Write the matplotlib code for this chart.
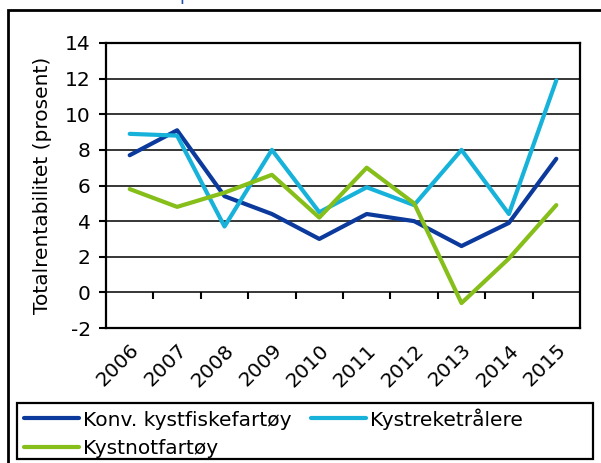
import matplotlib.pyplot as plt
import matplotlib.patches as patches
import numpy as np

years = ['2006', '2007', '2008', '2009', '2010', '2011', '2012', '2013', '2014', '2015']
konv = [7.7, 9.1, 5.4, 4.4, 3.0, 4.4, 4.0, 2.6, 3.9, 7.5]
reke = [8.9, 8.8, 3.7, 8.0, 4.5, 5.9, 4.9, 8.0, 4.4, 11.9]
not_ = [5.8, 4.8, 5.6, 6.6, 4.2, 7.0, 5.0, -0.6, 1.9, 4.9]
names = ['Konv. kystfiskefartøy', 'Kystreketrålere', 'Kystnotfartøy']
colors = ['#0B3A9C', '#16B2DA', '#86BE1A']

plt.rcParams['font.family'] = 'DejaVu Sans'
plt.rcParams['axes.unicode_minus'] = False
fs = 14.5
fig = plt.figure(figsize=(6.01, 4.63), dpi=100)
ax = fig.add_axes([106/601, 1-328/463, 474/601, 285/463])

x = np.arange(len(years))
l1, = ax.plot(x, konv, color=colors[0], lw=3, solid_capstyle='round', zorder=3)
l2, = ax.plot(x, reke, color=colors[1], lw=3, solid_capstyle='round', zorder=3)
l3, = ax.plot(x, not_, color=colors[2], lw=3, solid_capstyle='round', zorder=4)

ax.set_xlim(-0.5, len(years)-0.5)
ax.set_ylim(-2, 14)
ax.set_yticks(np.arange(-2, 15, 2))
ax.yaxis.grid(True, color='black', lw=1.1)
ax.set_axisbelow(True)
ax.tick_params(axis='y', direction='out', length=5, width=1.5, labelsize=fs, pad=6)
ax.set_xticks(x)
ax.set_xticklabels(years, rotation=45, ha='right', rotation_mode='anchor', fontsize=fs)
ax.tick_params(axis='x', length=0, pad=9)
# tick marks on the zero line between categories
ax.vlines(x[:-1]+0.5, -0.35, 0, color='black', lw=1.5)
for s in ax.spines.values():
    s.set_linewidth(1.6)
ax.set_ylabel('Totalrentabilitet (prosent)', fontsize=fs, labelpad=9)

fig.legend([l1, l3, l2], [names[0], names[2], names[1]], ncol=2, loc='upper left',
           bbox_to_anchor=(24/601, 1-408/463), fontsize=fs, frameon=False,
           handlelength=2.75, handletextpad=0.2, borderpad=0, labelspacing=0.45,
           columnspacing=0.95, borderaxespad=0)
fig.patches.append(patches.Rectangle((17/601, 1-459/463), 576/601, 56/463, transform=fig.transFigure,
                                     fill=False, edgecolor='black', lw=1.6))

fig.patches.append(patches.Rectangle((8/601, -0.2), 1.2, 1.2-10/463, transform=fig.transFigure,
                                     fill=False, edgecolor='black', lw=2))
fig.text(180/601, 1.0, 'periode 2006-2015', color='#1F4FA8', fontsize=13, va='baseline')

fig.savefig('out.png', dpi=100)
